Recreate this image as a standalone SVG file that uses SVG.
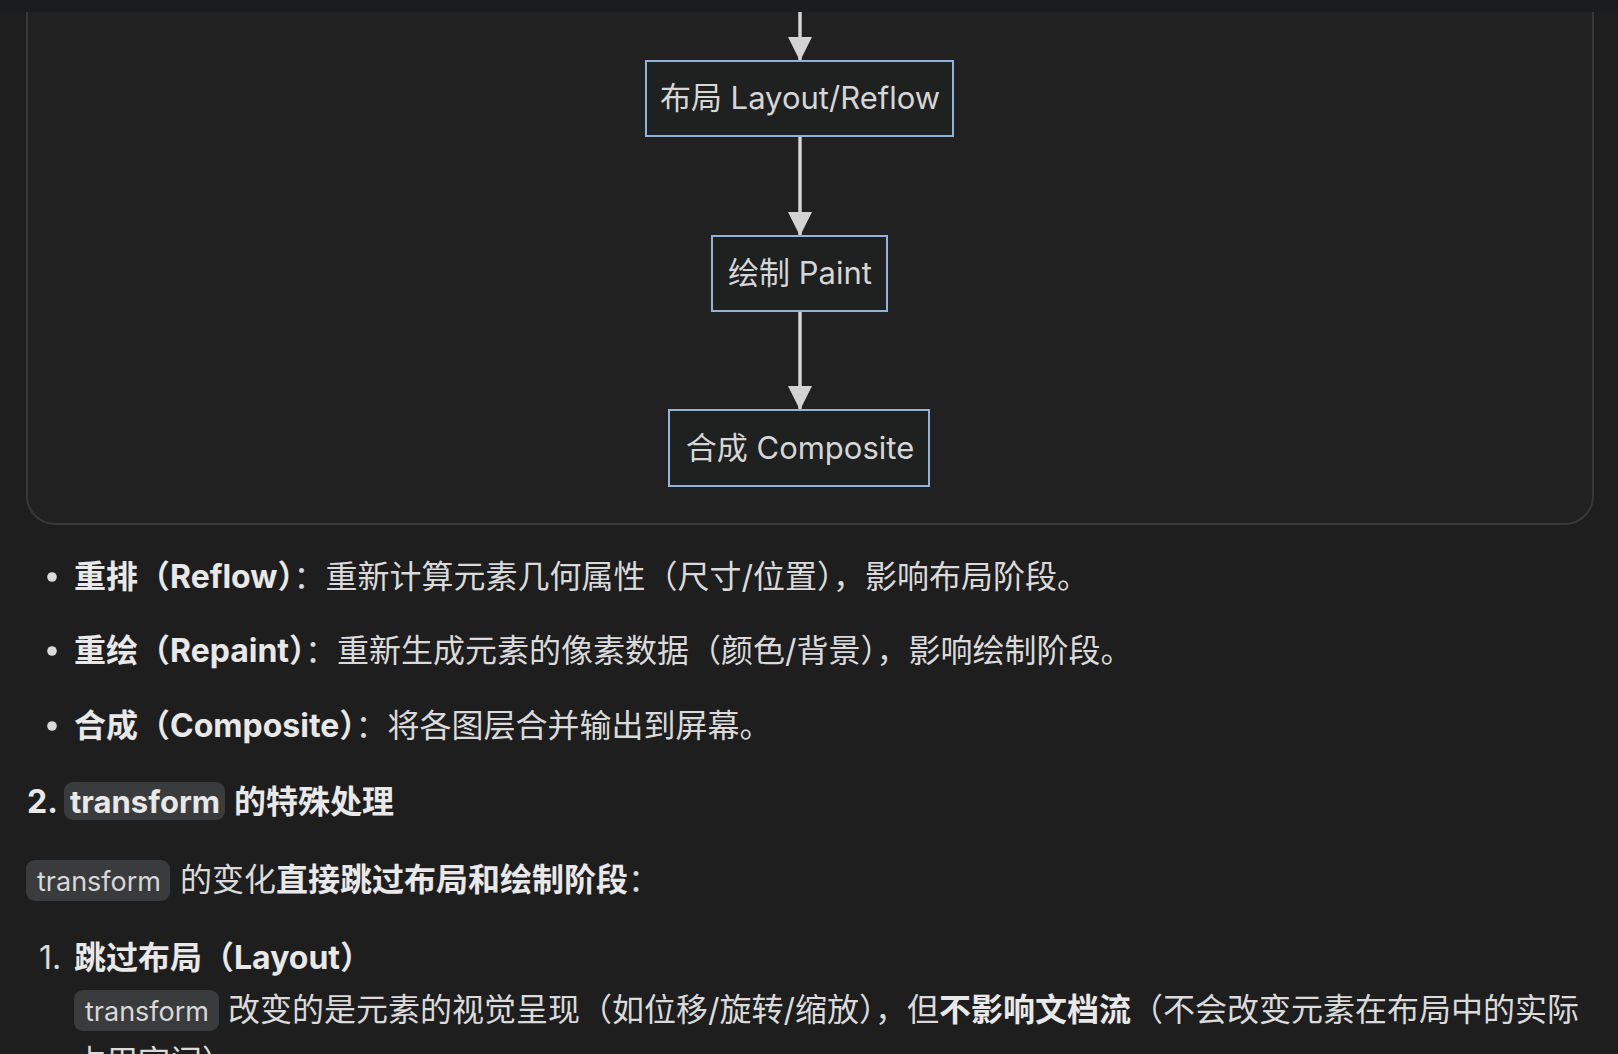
<svg xmlns="http://www.w3.org/2000/svg" width="1618" height="1054" viewBox="0 0 1618 1054">
<style>
.t{font-family:Inter,"Noto Sans CJK SC",sans-serif;fill:#dadada;font-size:32px}
.b{font-weight:700;fill:#e8e8e8}
.node rect{fill:#1f2020;stroke:#8fb3da;stroke-width:2}
.node text{font-family:Inter,"Noto Sans CJK SC",sans-serif;fill:#d6d6d6;font-size:31px;text-anchor:middle}
.edge{stroke:#d3d3d3;stroke-width:3.5;fill:none}
.pill{fill:#3a3b3d}
.code{font-family:Inter,"Noto Sans CJK SC",sans-serif;fill:#d8d8d8;font-size:27px}
.dot{fill:#dadada}
</style>
<defs>
<marker id="ah" viewBox="0 0 24 24" markerWidth="24" markerHeight="24" refX="24" refY="12" orient="auto" markerUnits="userSpaceOnUse">
<path d="M0,0 L24,12 L0,24 z" fill="#d3d3d3"/>
</marker>
</defs>
<rect width="1618" height="1054" fill="#1e1e1e"/>
<rect x="27" y="-40" width="1566" height="564" rx="28" fill="#212121" stroke="#383838" stroke-width="2"/>
<rect width="1618" height="12" fill="#1b1c1d"/>
<g id="connectors">
<line class="edge" x1="800" y1="12" x2="800" y2="61" marker-end="url(#ah)"/>
<line class="edge" x1="800" y1="136" x2="800" y2="236" marker-end="url(#ah)"/>
<line class="edge" x1="800" y1="311" x2="800" y2="410" marker-end="url(#ah)"/>
</g>
<g id="layout" class="node">
<rect x="646" y="61" width="307" height="75"/>
<text x="800" y="109">布局 Layout/Reflow</text>
</g>
<g id="paint" class="node">
<rect x="712" y="236" width="175" height="75"/>
<text x="800" y="284">绘制 Paint</text>
</g>
<g id="composite" class="node">
<rect x="669" y="410" width="260" height="76"/>
<text x="800" y="459">合成 Composite</text>
</g>
<g id="bullets">
<circle class="dot" cx="52" cy="577" r="4.8"/>
<text class="t" x="74" y="588"><tspan class="b">重排（Reflow）</tspan>：重新计算元素几何属性（尺寸/位置），影响布局阶段。</text>
<circle class="dot" cx="52" cy="651" r="4.8"/>
<text class="t" x="74" y="662"><tspan class="b">重绘（Repaint）</tspan>：重新生成元素的像素数据（颜色/背景），影响绘制阶段。</text>
<circle class="dot" cx="52" cy="726" r="4.8"/>
<text class="t" x="74" y="737"><tspan class="b">合成（Composite）</tspan>：将各图层合并输出到屏幕。</text>
</g>
<g id="heading">
<text class="t b" x="27" y="813">2.</text>
<rect class="pill" x="64" y="782" width="161" height="38" rx="9"/>
<text class="t b" x="70" y="813" style="font-size:31px">transform</text>
<text class="t b" x="234" y="813">的特殊处理</text>
</g>
<g id="para">
<rect class="pill" x="26" y="860" width="144" height="41" rx="9"/>
<text class="code" x="37" y="891">transform</text>
<text class="t" x="180" y="891">的变化<tspan class="b">直接跳过布局和绘制阶段</tspan>：</text>
</g>
<g id="list">
<text class="t" x="39" y="969">1.</text>
<text class="t b" x="74" y="969">跳过布局（Layout）</text>
<rect class="pill" x="74" y="990" width="145" height="41" rx="9"/>
<text class="code" x="85" y="1021">transform</text>
<text class="t" x="228" y="1021">改变的是元素的视觉呈现（如位移/旋转/缩放），但<tspan class="b">不影响文档流</tspan>（不会改变元素在布局中的实际</text>
<text class="t" x="74" y="1073">占用空间）</text>
</g>
</svg>
